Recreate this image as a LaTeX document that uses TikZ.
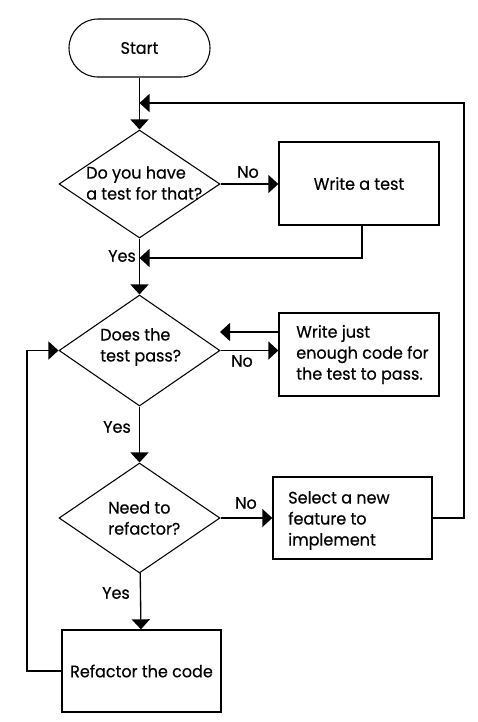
\documentclass[tikz,border=0pt]{standalone}
\usepackage{fontspec}
\setmainfont{Poppins}[FakeBold=0.4,FakeStretch=0.96]
\usetikzlibrary{shapes.geometric,arrows.meta}
\begin{document}
\begin{tikzpicture}[x=0.75pt,y=-0.75pt,
  every node/.style={font=\fontsize{12.5}{15.75}\selectfont},
  line/.style={line width=1pt},
  arr/.style={line, -{Triangle[length=7.5pt,width=13.5pt]}},
  startstop/.style={draw, line width=0.8pt, rectangle, rounded corners=21.75pt, minimum width=105.75pt, minimum height=43.5pt, inner sep=0pt},
  proc/.style={draw, line width=1pt, rectangle, minimum width=120pt, minimum height=62.25pt, inner sep=0pt},
  dec/.style={draw, line width=0.8pt, diamond, minimum width=120.75pt, inner sep=0pt},
  lbl/.style={inner sep=0pt},
  txt/.style={inner sep=0pt, anchor=west, align=left},
]
\useasboundingbox (0,0) rectangle (478,722);
% nodes
\node[startstop] (start) at (139.5,48) {Start};
\node[dec, minimum height=81pt] (d1) at (139.5,184) {};
\node[txt] (t1) at (86,183) {Do you have\\a test for that?};
\node[proc] (b1) at (359,183.5) {Write a test};
\node[dec, minimum height=83.25pt] (d2) at (139.5,350.5) {};
\node[txt] (t2) at (100,347) {Does the\\test pass?};
\node[proc] (b2) at (359,354.5) {};
\node[txt] (t4) at (296,354.5) {Write just\\enough code for\\the test to pass.};
\node[dec, minimum height=82.5pt] (d3) at (139.5,518) {};
\node[txt] (t3) at (108,518) {Need to\\refactor?};
\node[proc, minimum width=119.25pt, minimum height=61.5pt] (b3) at (352.5,518) {};
\node[txt] (t5) at (288,520.5) {Select a new\\feature to\\implement};
\node[proc, minimum width=119.25pt, minimum height=61.5pt] (b4) at (141.5,671) {Refactor the code};
% labels
\node[lbl] (n1) at (248,172) {No};
\node[lbl] (y1) at (122,256) {Yes};
\node[lbl] (n2) at (242,361) {No};
\node[lbl] (y2) at (117,427) {Yes};
\node[lbl] (n3) at (246,503) {No};
\node[lbl] (y3) at (116,593) {Yes};
% helper coordinates
\coordinate (j0) at (139.5,103);
\coordinate (r0) at (464,103);
\coordinate (j1) at (139.5,258);
\coordinate (k) at (220,332);
\coordinate (l0) at (27,0);
% connectors
\draw[arr] (start) -- (d1);
\draw[arr] (d1.east) -- (d1.east -| b1.west);
\draw[arr] ([xshift=2.25pt]b1.south) |- (j1);
\draw[arr] (d1) -- (d2);
\draw[arr] (b3.east) -| (r0) -- (j0);
\draw[arr] (d2.east) -- (d2.east -| b2.west);
\draw[arr] (b2.west |- k) -- (k);
\draw[arr] (d2) -- (d3);
\draw[arr] (d3.east) -- (d3.east -| b3.west);
\draw[arr] (d3) -- (b4);
\draw[arr] (b4.west) -| (l0 |- d2.west) -- (d2.west);
\end{tikzpicture}
\end{document}
